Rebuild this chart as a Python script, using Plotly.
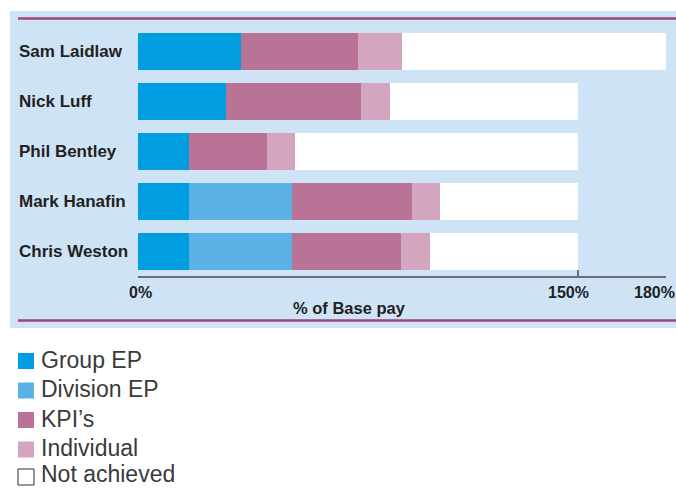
import plotly.graph_objects as go

# ---- data ----
names = ["Sam Laidlaw", "Nick Luff", "Phil Bentley", "Mark Hanafin", "Chris Weston"]
group_ep = [35, 30, 17.5, 17.5, 17.5]
division_ep = [0, 0, 0, 35, 35]
kpis = [40, 46, 26.5, 41, 37]
individual = [15, 10, 9.5, 9.5, 10]
not_achieved = [90, 64, 96.5, 47, 50.5]

series_names = ["Group EP", "Division EP", "KPI\u2019s", "Individual", "Not achieved"]
series_values = [group_ep, division_ep, kpis, individual, not_achieved]
series_colors = ["#009ee0", "#5ab2e6", "#b87396", "#d3a5bf", "#ffffff"]

tick_vals = [0, 150, 180]
tick_text = ["0%", "150%", "180%"]
tick_shift = [2, -10, -12]
x_title = "% of Base pay"

W, H = 676, 488
FONT = "Liberation Sans, Arial, sans-serif"
TXT = "#231f20"
PURPLE = "#a0457a"
PANEL = "#cfe3f6"

def px(x):
    return x / W

def py(y):
    return (H - y) / H

fig = go.Figure()
for nm, vals, col in zip(series_names, series_values, series_colors):
    fig.add_trace(go.Bar(
        y=names, x=vals, name=nm, orientation="h",
        marker=dict(color=col, line=dict(width=0)),
        width=0.74, showlegend=False, hoverinfo="x+name",
    ))

shapes = [
    # panel
    dict(type="rect", xref="paper", yref="paper", x0=px(10), x1=px(676), y0=py(328), y1=py(11),
         fillcolor=PANEL, line=dict(width=0), layer="below"),
    # purple rules
    dict(type="line", xref="paper", yref="paper", x0=px(18), x1=px(676), y0=py(18.5), y1=py(18.5),
         line=dict(color=PURPLE, width=2.5), layer="below"),
    dict(type="line", xref="paper", yref="paper", x0=px(18), x1=px(676), y0=py(320.5), y1=py(320.5),
         line=dict(color=PURPLE, width=2.5), layer="below"),
]

annotations = []
# category labels (left aligned)
for nm in names:
    annotations.append(dict(x=px(17), xref="paper", y=nm, yref="y", text="<b>%s</b>" % nm,
                            showarrow=False, xanchor="left", yanchor="middle",
                            font=dict(family=FONT, size=17, color=TXT)))
# tick labels
for v, t, s in zip(tick_vals, tick_text, tick_shift):
    annotations.append(dict(x=v, xref="x", y=py(292), yref="paper", text="<b>%s</b>" % t,
                            showarrow=False, xanchor="center", yanchor="middle", xshift=s,
                            font=dict(family=FONT, size=16, color=TXT)))
annotations.append(dict(x=px(349), xref="paper", y=py(308), yref="paper", text="<b>%s</b>" % x_title,
                        showarrow=False, xanchor="center", yanchor="middle",
                        font=dict(family=FONT, size=16.5, color=TXT)))

# custom legend
row_y = [361, 390.5, 420, 449.5, 477]
for i, (nm, col) in enumerate(zip(series_names, series_colors)):
    cy = row_y[i]
    border = dict(color="#333333", width=1) if col == "#ffffff" else dict(width=0)
    shapes.append(dict(type="rect", xref="paper", yref="paper",
                       x0=px(18), x1=px(34), y0=py(cy + 8), y1=py(cy - 8),
                       fillcolor=col, line=border))
    ty = cy - 1.5 if i < len(series_names) - 1 else cy - 3.5
    annotations.append(dict(x=px(40), xref="paper", y=py(ty), yref="paper", text=nm,
                            showarrow=False, xanchor="left", yanchor="middle", borderpad=0,
                            font=dict(family=FONT, size=23, color="#3a3a3a")))

fig.update_layout(
    width=W, height=H, margin=dict(l=0, r=0, t=0, b=0),
    paper_bgcolor="#ffffff", plot_bgcolor="rgba(0,0,0,0)",
    barmode="stack", bargap=0.26, showlegend=False,
    shapes=shapes, annotations=annotations,
    xaxis=dict(domain=[px(138), px(666)], range=[0, 180], tickvals=tick_vals,
               showticklabels=False, ticks="inside", ticklen=6, tickwidth=1.5, tickcolor="#6d6e71",
               showline=True, linecolor="#6d6e71", linewidth=2, showgrid=False, zeroline=False,
               fixedrange=True),
    yaxis=dict(domain=[py(276), py(26.5)], range=[4.5, -0.5], showticklabels=False,
               showgrid=False, zeroline=False, showline=False, ticks="", fixedrange=True),
)

fig.write_html("out.html")
